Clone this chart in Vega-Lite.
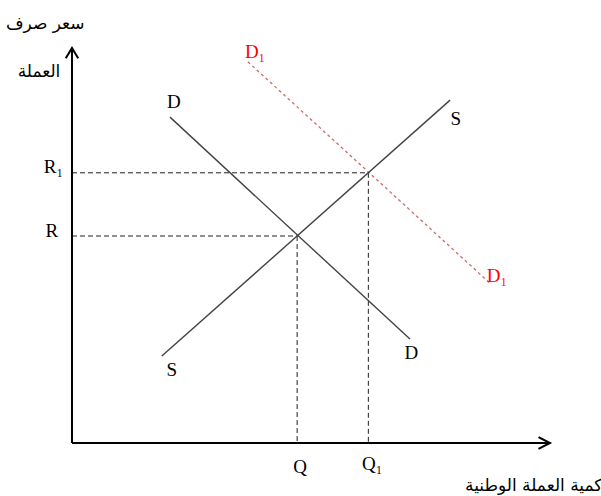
{
  "$schema": "https://vega.github.io/schema/vega-lite/v6.json",
  "width": 601,
  "height": 496,
  "autosize": "none",
  "padding": 0,
  "background": "white",
  "config": {"view": {"stroke": null}},
  "datasets": {
    "axes": [
      {"name": "y", "x": 0, "y": 0, "x2": 0, "y2": 100},
      {"name": "x", "x": 0, "y": 0, "x2": 100, "y2": 0}
    ],
    "arrows": [
      {"g": "y", "o": 1, "x": -1.3, "y": 97.4},
      {"g": "y", "o": 2, "x": 0, "y": 100},
      {"g": "y", "o": 3, "x": 1.3, "y": 97.4},
      {"g": "x", "o": 1, "x": 97.6, "y": 1.5},
      {"g": "x", "o": 2, "x": 100, "y": 0},
      {"g": "x", "o": 3, "x": 97.6, "y": -1.5}
    ],
    "curves": [
      {"name": "D", "x": 20.5, "y": 82.5, "x2": 70.7, "y2": 26.3},
      {"name": "S", "x": 18.8, "y": 22.0, "x2": 79.1, "y2": 86.8}
    ],
    "shifted": [
      {"name": "D1", "x": 36.8, "y": 96.5, "x2": 87.4, "y2": 40.5}
    ],
    "guides": [
      {"name": "R", "x": 0, "y": 52.4, "x2": 47.1, "y2": 52.4},
      {"name": "Q", "x": 47.1, "y": 52.4, "x2": 47.1, "y2": 0},
      {"name": "R1", "x": 0, "y": 68.4, "x2": 62.0, "y2": 68.4},
      {"name": "Q1", "x": 62.0, "y": 68.4, "x2": 62.0, "y2": 0}
    ],
    "labels": [
      {"t": "D", "x": 21.3, "y": 84.8},
      {"t": "D", "x": 71.0, "y": 21.3},
      {"t": "S", "x": 80.3, "y": 80.5},
      {"t": "S", "x": 20.9, "y": 17.0},
      {"t": "R₁", "x": -3.9, "y": 68.4},
      {"t": "R", "x": -4.2, "y": 52.2},
      {"t": "Q", "x": 47.7, "y": -7.6},
      {"t": "Q₁", "x": 62.8, "y": -6.8}
    ],
    "redlabels": [
      {"t": "D₁", "x": 38.3, "y": 97.5},
      {"t": "D₁", "x": 88.9, "y": 40.8}
    ],
    "arabic": [
      {"t": "سعر صرف", "x": -5.6, "y": 106.0},
      {"t": "العملة", "x": -6.9, "y": 93.9},
      {"t": "كمية العملة الوطنية", "x": 96.6, "y": -10.8}
    ]
  },
  "layer": [
    {
      "data": {"name": "guides"},
      "mark": {"type": "rule", "color": "#222222", "strokeWidth": 1, "strokeDash": [5, 3]},
      "encoding": {
        "x": {"field": "x", "type": "quantitative", "scale": {"domain": [-15.06, 110.67], "nice": false, "zero": false}, "axis": null},
        "y": {"field": "y", "type": "quantitative", "scale": {"domain": [-13.42, 112.15], "nice": false, "zero": false}, "axis": null},
        "x2": {"field": "x2"},
        "y2": {"field": "y2"}
      }
    },
    {
      "data": {"name": "shifted"},
      "mark": {"type": "rule", "color": "#d06a6a", "strokeWidth": 1.3, "strokeDash": [3, 3]},
      "encoding": {
        "x": {"field": "x", "type": "quantitative"},
        "y": {"field": "y", "type": "quantitative"},
        "x2": {"field": "x2"},
        "y2": {"field": "y2"}
      }
    },
    {
      "data": {"name": "curves"},
      "mark": {"type": "rule", "color": "#444444", "strokeWidth": 1.4},
      "encoding": {
        "x": {"field": "x", "type": "quantitative"},
        "y": {"field": "y", "type": "quantitative"},
        "x2": {"field": "x2"},
        "y2": {"field": "y2"}
      }
    },
    {
      "data": {"name": "axes"},
      "mark": {"type": "rule", "color": "#000000", "strokeWidth": 2},
      "encoding": {
        "x": {"field": "x", "type": "quantitative"},
        "y": {"field": "y", "type": "quantitative"},
        "x2": {"field": "x2"},
        "y2": {"field": "y2"}
      }
    },
    {
      "data": {"name": "arrows"},
      "mark": {"type": "line", "color": "#000000", "strokeWidth": 2},
      "encoding": {
        "x": {"field": "x", "type": "quantitative"},
        "y": {"field": "y", "type": "quantitative"},
        "detail": {"field": "g"},
        "order": {"field": "o"}
      }
    },
    {
      "data": {"name": "labels"},
      "mark": {"type": "text", "font": "Liberation Serif", "fontSize": 19, "color": "#000000", "align": "center", "baseline": "alphabetic"},
      "encoding": {
        "x": {"field": "x", "type": "quantitative"},
        "y": {"field": "y", "type": "quantitative"},
        "text": {"field": "t"}
      }
    },
    {
      "data": {"name": "redlabels"},
      "mark": {"type": "text", "font": "Liberation Serif", "fontSize": 19, "color": "#ff0000", "align": "center", "baseline": "alphabetic"},
      "encoding": {
        "x": {"field": "x", "type": "quantitative"},
        "y": {"field": "y", "type": "quantitative"},
        "text": {"field": "t"}
      }
    },
    {
      "data": {"name": "arabic"},
      "mark": {"type": "text", "font": "DejaVu Sans", "fontSize": 17, "color": "#000000", "align": "center", "baseline": "middle"},
      "encoding": {
        "x": {"field": "x", "type": "quantitative"},
        "y": {"field": "y", "type": "quantitative"},
        "text": {"field": "t"}
      }
    }
  ]
}
